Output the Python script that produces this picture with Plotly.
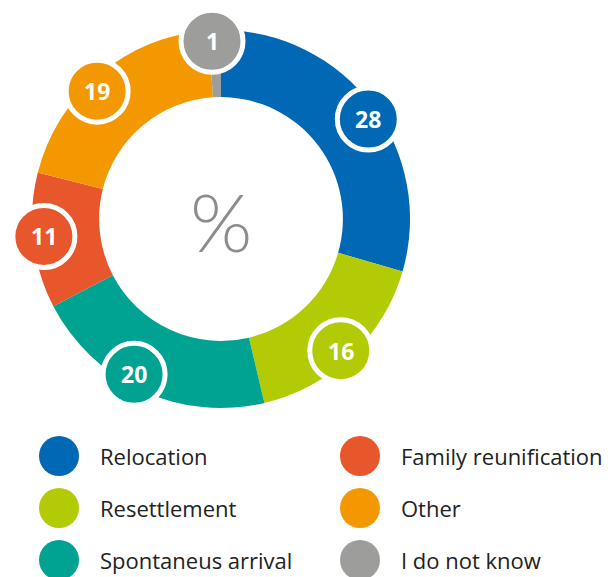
import numpy as np
import plotly.graph_objects as go

# ---- data ----
categories = ["Relocation", "Resettlement", "Spontaneus arrival",
              "Family reunification", "Other", "I do not know"]
values = [28, 16, 20, 11, 19, 1]
colors = ["#0068B4", "#B2CB05", "#00A391", "#E8562C", "#F39800", "#9D9D9C"]
center_label = "%"

# legend layout (two columns, order as in reference)
legend_cols = [["Relocation", "Resettlement", "Spontaneus arrival"],
               ["Family reunification", "Other", "I do not know"]]

# badge placement style: small angular nudges (degrees) from slice centres
badge_nudge_deg = [2.8, 1.3, 4.6, 1.0, -4.3, -1.0]

WIN_W, WIN_H = 614, 577
OFF = 8                      # page body margin
W, H = WIN_W - OFF, WIN_H - OFF
CX, CY, R_OUT = 221, 219, 189   # window pixel coordinates
HOLE = 0.645
R_BADGE = 178

fig = go.Figure()

# donut
fig.add_trace(go.Pie(
    labels=categories, values=values, sort=False, direction="clockwise",
    rotation=0, hole=HOLE, textinfo="none", hoverinfo="label+value",
    marker=dict(colors=colors, line=dict(width=0)),
    domain=dict(x=[(CX - OFF - R_OUT) / W, (CX - OFF + R_OUT) / W],
                y=[(WIN_H - CY - R_OUT) / H, (WIN_H - CY + R_OUT) / H]),
    showlegend=False,
))

# badges at slice mid-angles
total = sum(values)
cum = np.cumsum([0] + values[:-1])
shapes = []
annotations = []
for v, c0, col, nd in zip(values, cum, colors, badge_nudge_deg):
    theta = (c0 + v / 2) / total * 2 * np.pi + np.radians(nd)
    bx = CX + R_BADGE * np.sin(theta)
    by = CY - R_BADGE * np.cos(theta)
    rr = 31
    shapes.append(dict(type="circle", xref="x", yref="y", layer="above",
                       x0=bx - rr, x1=bx + rr, y0=by - rr, y1=by + rr,
                       fillcolor=col, line=dict(color="white", width=5)))
    annotations.append(dict(x=bx, y=by, xref="x", yref="y", text=str(v),
                            showarrow=False,
                            font=dict(family="Open Sans", size=23, color="white",
                                      weight="bold")))

annotations.append(dict(x=CX, y=CY + 2, xref="x", yref="y", text=center_label,
                        showarrow=False,
                        font=dict(family="Lato", size=80, color="#8c8c8c",
                                  weight=300)))

# legend
col_x = [59, 360]
row_y = [456, 508, 560]
cmap = dict(zip(categories, colors))
for ci, names in enumerate(legend_cols):
    for ri, name in enumerate(names):
        fig.add_trace(go.Scatter(
            x=[col_x[ci]], y=[row_y[ri]], mode="markers",
            marker=dict(size=40, color=cmap[name], line=dict(width=0)),
            showlegend=False, hoverinfo="skip"))
        annotations.append(dict(x=col_x[ci] + 39, y=row_y[ri], xref="x", yref="y",
                                text=name, showarrow=False, xanchor="left",
                                font=dict(family="Open Sans", size=22, color="#222222")))

fig.update_layout(
    width=W, height=H, margin=dict(l=0, r=0, t=0, b=0),
    paper_bgcolor="white", plot_bgcolor="white",
    xaxis=dict(range=[OFF, WIN_W], visible=False, fixedrange=True),
    yaxis=dict(range=[WIN_H, OFF], visible=False, fixedrange=True),
    shapes=shapes, annotations=annotations,
)

fig.write_html("out.html")
